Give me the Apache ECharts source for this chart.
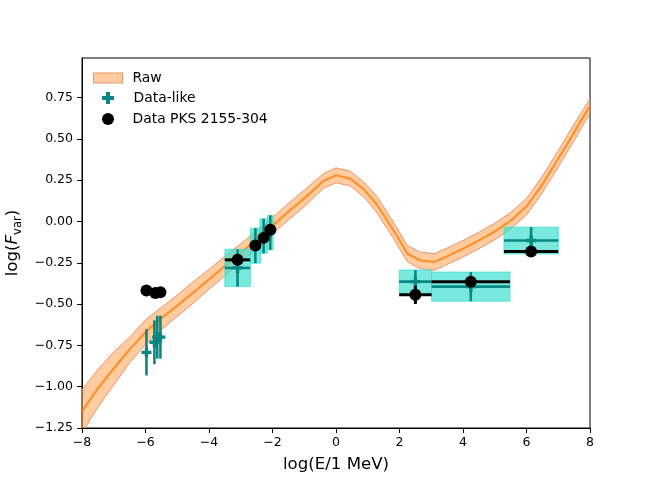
<!DOCTYPE html>
<html><head><meta charset="utf-8">
<script src="https://cdn.jsdelivr.net/npm/echarts@6/dist/echarts.min.js"></script>
<style>html,body{margin:0;padding:0;background:#fff}#c{width:655px;height:480px}</style>
</head><body><div id="c"></div>
<script>
// ---- Raw model band ----
const rawX    = [-8, -7.5, -7, -6.5, -6, -5.5, -5, -4.5, -4, -3.5, -3, -2.5, -2, -1.5, -1, -0.4, 0, 0.45, 0.9, 1.3, 1.8, 2.25, 2.65, 3.1, 3.5, 4, 4.5, 5, 5.5, 6, 6.5, 7, 7.5, 8];
const rawMid  = [-1.15, -1.01, -0.89, -0.775, -0.67, -0.585, -0.51, -0.43, -0.35, -0.27, -0.19, -0.11, -0.025, 0.06, 0.14, 0.245, 0.28, 0.26, 0.19, 0.10, -0.05, -0.195, -0.235, -0.245, -0.21, -0.165, -0.115, -0.06, 0.005, 0.09, 0.225, 0.38, 0.54, 0.70];
const rawLow  = [-1.28, -1.125, -0.99, -0.855, -0.745, -0.655, -0.575, -0.495, -0.41, -0.33, -0.245, -0.165, -0.075, 0.01, 0.09, 0.20, 0.235, 0.215, 0.145, 0.05, -0.10, -0.245, -0.285, -0.295, -0.26, -0.215, -0.165, -0.11, -0.045, 0.04, 0.175, 0.33, 0.49, 0.655];
const rawHigh = [-1.02, -0.895, -0.79, -0.70, -0.595, -0.52, -0.445, -0.365, -0.29, -0.21, -0.135, -0.055, 0.025, 0.11, 0.19, 0.29, 0.325, 0.305, 0.235, 0.15, 0.00, -0.145, -0.185, -0.195, -0.16, -0.115, -0.065, -0.01, 0.055, 0.14, 0.275, 0.43, 0.59, 0.745];

// ---- Data-like (teal) ----
const tealX    = [-5.97, -5.72, -5.63, -5.53, -3.10, -2.54, -2.28, -2.07, 2.50, 4.245, 6.145];
const tealY    = [-0.792, -0.731, -0.700, -0.700, -0.281, -0.146, -0.088, -0.067, -0.364, -0.394, -0.115];
const tealXerr = [0, 0, 0, 0, 0.40, 0.16, 0.115, 0.09, 0.51, 1.235, 0.855];
const tealYerr = [0.14, 0.133, 0.13, 0.13, 0.113, 0.106, 0.104, 0.104, 0.07, 0.088, 0.081];

// ---- Data PKS 2155-304 (black) ----
const blackX    = [-5.97, -5.69, -5.53, -3.10, -2.54, -2.28, -2.07, 2.50, 4.245, 6.145];
const blackY    = [-0.418, -0.432, -0.428, -0.232, -0.145, -0.099, -0.050, -0.444, -0.364, -0.182];
const blackXerr = [0, 0, 0, 0.40, 0.16, 0.115, 0.09, 0.51, 1.235, 0.855];
const blackYerr = [0, 0, 0, 0, 0, 0, 0, 0.055, 0.02, 0.02];

// ---- axes ----
const xTicks = [-8, -6, -4, -2, 0, 2, 4, 6, 8];
const yTicks = [-1.25, -1.0, -0.75, -0.5, -0.25, 0, 0.25, 0.5, 0.75];

const FONT = 'DejaVu Sans';
const TEAL = '#0a8780';
const PLUS = 'path://M1,0H2V1H3V2H2V3H1V2H0V1H1Z';

const minus = s => s.replace('-', '\u2212');

function errRender(color, width) {
  return function (params, api) {
    const x = api.value(0), y = api.value(1), xe = api.value(2), ye = api.value(3);
    const ch = [];
    if (xe > 0) {
      const a = api.coord([x - xe, y]), b = api.coord([x + xe, y]);
      ch.push({type: 'line', shape: {x1: a[0], y1: a[1], x2: b[0], y2: b[1]}, style: {stroke: color, lineWidth: width}});
    }
    if (ye > 0) {
      const a = api.coord([x, y - ye]), b = api.coord([x, y + ye]);
      ch.push({type: 'line', shape: {x1: a[0], y1: a[1], x2: b[0], y2: b[1]}, style: {stroke: color, lineWidth: width}});
    }
    return {type: 'group', children: ch};
  };
}

const tealErrData = tealX.map((x, i) => [x, tealY[i], tealXerr[i], tealYerr[i]]);
const boxData = tealErrData.filter(d => d[2] > 0);
const blackErrData = blackX.map((x, i) => [x, blackY[i], blackXerr[i], blackYerr[i]]);

const chart = echarts.init(document.getElementById('c'), null, {renderer: 'canvas'});
chart.setOption({
  animation: false,
  backgroundColor: '#fff',
  textStyle: {fontFamily: FONT},
  grid: {left: 82, right: 65, top: 58, bottom: 52, show: true, borderColor: '#000', borderWidth: 1, containLabel: false, outerBoundsMode: 'none'},
  xAxis: {
    type: 'value', min: -8, max: 8, interval: 2,
    name: 'log(E/1 MeV)', nameLocation: 'middle', nameGap: 28,
    nameTextStyle: {fontSize: 16.6, color: '#000', fontFamily: FONT},
    axisLine: {show: true, onZero: false, lineStyle: {color: '#000', width: 1}},
    axisTick: {show: true, inside: false, length: 5, lineStyle: {color: '#000', width: 1}, customValues: xTicks},
    axisLabel: {color: '#000', fontSize: 12.5, fontFamily: FONT, margin: 8, customValues: xTicks, formatter: v => minus(String(v))},
    splitLine: {show: false}
  },
  yAxis: {
    type: 'value', min: -1.25, max: 0.99, interval: 0.25,
    name: '{n|log(}{i|F}{s|var}{n|)}', nameLocation: 'middle', nameGap: 57,
    nameTextStyle: {
      color: '#000',
      rich: {
        n: {fontSize: 16.6, fontFamily: FONT, color: '#000', lineHeight: 22, verticalAlign: 'middle'},
        i: {fontSize: 16.6, fontFamily: FONT, fontStyle: 'italic', color: '#000', lineHeight: 22, verticalAlign: 'middle'},
        s: {fontSize: 11.6, fontFamily: FONT, color: '#000', lineHeight: 12, verticalAlign: 'bottom'}
      }
    },
    axisLine: {show: true, onZero: false, lineStyle: {color: '#000', width: 1}},
    axisTick: {show: true, inside: false, length: 5, lineStyle: {color: '#000', width: 1}, customValues: yTicks},
    axisLabel: {color: '#000', fontSize: 12.5, fontFamily: FONT, margin: 9, customValues: yTicks,
      formatter: v => minus(Number(v).toFixed(2))},
    splitLine: {show: false}
  },
  legend: [
    {left: 93, top: 71, padding: 0, itemWidth: 29, itemHeight: 10, selectedMode: false,
     textStyle: {fontSize: 13.9, color: '#000', fontFamily: FONT, padding: [0, 0, 0, 5]},
     data: [{name: 'Raw', icon: 'rect', itemStyle: {color: '#ffcb9f', borderColor: '#e8956c', borderWidth: 1}}]},
    {left: 102, top: 91, padding: 0, itemWidth: 29, itemHeight: 12, selectedMode: false,
     textStyle: {fontSize: 13.9, color: '#000', fontFamily: FONT, padding: [0, 0, 0, 6]},
     data: [{name: 'Data-like', icon: PLUS, itemStyle: {color: TEAL}}]},
    {left: 102, top: 112, padding: 0, itemWidth: 29, itemHeight: 12, selectedMode: false,
     textStyle: {fontSize: 13.9, color: '#000', fontFamily: FONT, padding: [0, 0, 0, 5]},
     data: [{name: 'Data PKS 2155-304', icon: 'circle', itemStyle: {color: '#000'}}]}
  ],
  series: [
    {
      name: 'Raw', type: 'custom', clip: true, z: 1,
      data: [[rawX[0], rawMid[0]]],
      encode: {x: 0, y: 1},
      renderItem: function (params, api) {
        const pts = [];
        for (let i = 0; i < rawX.length; i++) pts.push(api.coord([rawX[i], rawHigh[i]]));
        for (let i = rawX.length - 1; i >= 0; i--) pts.push(api.coord([rawX[i], rawLow[i]]));
        return {type: 'polygon', shape: {points: pts},
          style: {fill: 'rgba(255,127,14,0.4)', stroke: '#e8956c', lineWidth: 1}};
      },
      itemStyle: {color: '#ffcb9f'}
    },
    {
      name: 'RawMid', type: 'line', z: 2, symbol: 'none', clip: true,
      data: rawX.map((x, i) => [x, rawMid[i]]),
      lineStyle: {color: 'rgba(255,127,14,0.78)', width: 2.2}
    },
    {
      name: 'boxes', type: 'custom', z: 3,
      data: boxData, encode: {x: 0, y: 1},
      renderItem: function (params, api) {
        const x = api.value(0), y = api.value(1), xe = api.value(2), ye = api.value(3);
        const a = api.coord([x - xe, y + ye]), b = api.coord([x + xe, y - ye]);
        return {type: 'rect', shape: {x: a[0], y: a[1], width: b[0] - a[0], height: b[1] - a[1]},
          style: {fill: 'rgba(64,224,208,0.7)', stroke: 'rgba(64,224,208,0.8)', lineWidth: 1}};
      }
    },
    {
      name: 'tealErr', type: 'custom', z: 4,
      data: tealErrData, encode: {x: 0, y: 1},
      renderItem: errRender(TEAL, 2.6)
    },
    {
      name: 'Data-like', type: 'scatter', z: 5,
      symbol: PLUS, symbolSize: 10,
      data: tealX.map((x, i) => [x, tealY[i]]),
      itemStyle: {color: TEAL, opacity: 1}
    },
    {
      name: 'blackErr', type: 'custom', z: 6,
      data: blackErrData, encode: {x: 0, y: 1},
      renderItem: errRender('#000', 3)
    },
    {
      name: 'Data PKS 2155-304', type: 'scatter', z: 7,
      symbol: 'circle', symbolSize: 12,
      data: blackX.map((x, i) => [x, blackY[i]]),
      itemStyle: {color: '#000', opacity: 1}
    }
  ]
});
</script></body></html>
